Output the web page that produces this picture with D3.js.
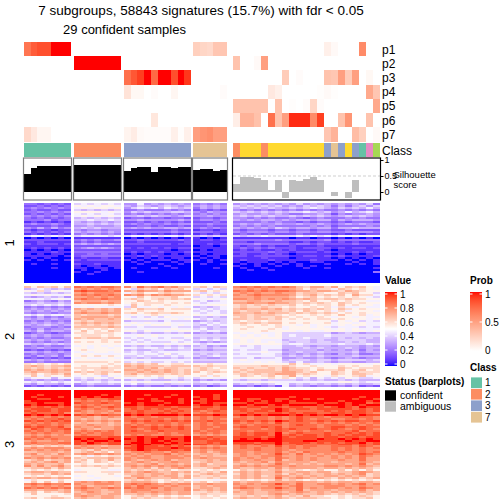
<!DOCTYPE html>
<html><head><meta charset="utf-8">
<script src="https://cdn.jsdelivr.net/npm/d3@7"></script>
<style>html,body{margin:0;padding:0;background:#fff}svg{display:block}text{font-family:"Liberation Sans",Arial,sans-serif;fill:#000}rect.cell{shape-rendering:crispEdges}</style>
</head><body><svg id="c" width="504" height="504"></svg>
<script>
const titleLines = ["7 subgroups, 58843 signatures (15.7%) with fdr < 0.05", "29 confident samples"];
const groupSizes = [7, 7, 10, 5, 21];
const classes = [1,1,1,1,1,1,1, 2,2,2,2,2,2,2, 3,3,3,3,3,3,3,3,3,3, 7,7,7,7,7,
  2,6,6,6,2,6,6,6,6,6,6,6,6,3,7,3,6,3,1,4,5];
const classColor = {1:"#66C2A5",2:"#FC8D62",3:"#8DA0CB",4:"#E78AC3",5:"#A6D854",6:"#FFD92F",7:"#E5C494"};
const p1 = [.7,.8,.85,.85,1,1,1, 0,0,0,0,0,0,0, 0,0,0,0,0,0,0,0,0,0, .25,.22,.2,.3,.3,
  0,0,0,0,0,0,0,0,0,0,0,0,0,.08,.03,0,0,0,.6,0,0];
const p2 = [0,0,0,0,0,0,0, 1,1,1,1,1,1,1, 0,0,0,0,0,0,0,0,0,0, 0,0,0,0,0,
  .32,0,0,.03,.5,0,0,0,0,0,0,0,0,0,0,0,0,0,0,0,0];
const p3 = [0,0,0,0,0,0,0, 0,0,0,0,0,0,0, .72,.82,.9,1,.75,1,1,.85,1,.92, 0,0,0,0,0,
  0,0,0,0,0,0,0,.27,0,.02,0,0,0,.32,.3,.5,.27,.5,0,.04,0];
const p4 = [0,0,0,0,0,0,0, 0,0,0,0,0,0,0, .15,.04,.04,0,.02,0,0,.05,0,0, 0,0,0,0,.02,
  0,0,0,0,0,.12,.08,0,0,0,0,0,.01,.03,.01,0,0,0,0,.45,.3];
const p5 = [0,0,0,0,0,0,0, 0,0,0,0,0,0,0, 0,0,0,0,0,0,0,0,0,0, 0,0,0,0,0,
  .32,.32,.32,.32,.32,0,.32,0,.01,0,.02,.22,.02,0,0,0,0,0,0,0,.45];
const p6 = [0,0,0,0,0,0,0, 0,0,0,0,0,0,0, 0,0,0,0,.13,0,0,0,0,0, 0,0,0,0,0,
  .09,.4,.4,.33,0,.72,.32,.5,.95,.95,.95,.6,.9,0,0,.32,.55,0,0,.32,0];
const p7 = [.2,.12,.05,.05,0,0,0, 0,0,0,0,0,0,0, .06,.1,.03,.02,.02,.02,.02,.08,.01,.08, .5,.55,.58,.5,.5,
  0,0,0,0,0,0,0,0,0,0,0,0,0,.3,.4,0,0,.35,.25,0,.03];
const probNames = ["p1","p2","p3","p4","p5","p6","p7"];
const probRows = [p1,p2,p3,p4,p5,p6,p7];
const silhouette = [.56,.74,.81,.81,.81,.81,.81, .84,.84,.84,.84,.84,.84,.84,
  .66,.75,.78,.78,.63,.78,.78,.75,.78,.78, .69,.72,.72,.66,.69,
  .25,.47,.47,.44,.38,.06,.38,-.18,.38,.34,.41,.47,.38,0,-.12,0,-.18,.38,0,0,0];
const confidentCount = 29;

// expression rows; one hex digit per sample, 0 = 0 and f = 1
const slice1 = [
"3323232 6767676 44745 45454 34343 4545454 5464545 4545463",
"2232323 8787887 54654 56545 45454 6565656 4546565 3535646",
"3434343 7878878 46767 57656 35454 5656565 5656765 4656575",
"2322322 6565656 33433 34343 23232 4343434 3434343 3434343",
"3343434 8888787 46565 55665 43544 6565656 5667656 4575675",
"2323232 7676776 34343 43434 34343 4544545 4334454 2434454",
"4343434 7878787 55656 55456 44544 5656565 5656565 4565654",
"3232323 5656565 23323 32332 23323 4434343 3432343 3343433",
"3334233 6676676 44544 44454 34434 5454554 5455455 3545554",
"1212121 5454545 22323 23232 22232 3333434 3323233 2323332",
"3433432 5565656 34343 34344 33433 4545445 4454454 3454544",
"2222322 4454445 22332 32232 22322 3434343 3333434 2333343",
"4353534 5656555 45454 45545 34343 5454546 5455455 3556555",
"2122122 4344344 22222 22322 12212 3233323 3233233 2232222",
"3232323 5455454 33333 33433 33322 4344434 4344344 3344443",
"1212121 3434343 12121 21212 12121 2323232 2232222 1212122",
"6776767 6777767 67777 67767 56565 6566766 6676767 6777777",
"0101010 1111111 01010 10101 10101 1111111 1011011 0101010",
"2222222 3434334 22322 22232 12212 3333334 3333334 2333333",
"1121111 2323222 11211 11112 11111 2212222 2112122 1212112",
"2122212 4545454 22222 22122 11212 3334333 3233232 2223222",
"1111111 2222222 11111 11111 01101 2122121 1211121 1111111",
"1212121 3454543 21212 12122 11111 2323232 2212222 1212212",
"0101010 2222222 11111 11011 01011 1212112 1211121 0111111",
"1111211 3333333 12121 21112 11111 2222232 2122212 1112121",
"1010110 2232322 01011 10101 01011 1211212 1011111 0101011",
"1111101 2333333 11212 11111 10110 2212222 2112212 1211112",
"0101000 1211211 01010 10110 01010 1111211 1011111 0101010",
"1010101 2122222 10101 11011 10101 1211121 1111211 1010101",
"0000000 1111111 01010 00101 00100 1011101 0100110 0001001",
"0100100 2112111 00100 10010 01001 0101010 1010001 0010101",
"0000000 1011011 00000 01000 00000 1001001 0010100 0000000",
"0000100 1101101 01001 00100 00010 0100100 0001001 0000001",
"0000000 0100100 00000 00000 00000 0010010 0000000 0000000",
"0000000 1001000 00100 00000 00000 0000000 0000000 0000003",
"0000000 0010000 00000 00000 00000 0000000 0000000 0000000",
"0000000 0000000 00000 00000 00000 0000000 0000000 0000000",
"0000000 0000000 00000 00000 00000 0000000 0000000 0000000",
"0000000 0000000 00000 00000 00000 0000000 0000000 0000000",
"0000000 0000000 00000 00000 00000 0000000 0000000 0000000"];
const slice2 = [
"a8a9a8a dcdcddc c9dbc dbcaa 9a8a9 cdcdcdc dca9bb9 b8a9a87",
"5676565 bcbcbcb 86a9a 8a9a8 67676 bbcbcbb bba8a99 7a98987",
"8796887 dedddcd bacbb acbbb 9a898 dcdcdcd dcbbabb a9ba988",
"6565656 bcbcccb 79a88 9a998 76767 bcbcbbc bb9aa98 8a9a886",
"7878778 cdcdcdc cbcac bcbba 98989 cbcdccc cb9ab9a 9a8b997",
"5456564 bbcbcbc 87a89 99a88 67676 bbbcbbb ba89a89 8989876",
"7776787 cdccdcc 9a989 a9a9a 87878 ccbcbcb cbaba9a a9a9988",
"3454354 abbbabb 88a98 98888 67567 aabbaab aa98a88 9898877",
"5565565 cbccbcb 89899 98989 76777 bbcbbcb ba9a9a9 8a98988",
"6767676 8888898 7a898 89888 87888 9a9a9a9 9a89899 8a89887",
"3434343 7878777 6a778 78787 56567 9a99a99 8988989 7977877",
"4545454 bababab 98a99 a8999 76767 abaabab 9a9a9a9 8a98988",
"5454545 abaabab 88988 98888 67676 a9aa9aa 9a8a989 7978887",
"4344344 bcbbcbb 9a89a 99a98 76776 baababa a9a9a9a 9898988",
"7676776 a9aaa9a 78789 87888 87878 aa9aaa9 8988989 8a88978",
"4353435 abbbbab 76767 68777 56565 9a9a99a 9898898 7887877",
"5454544 babaaba 87787 77878 76766 aa9aa9a 8989899 8988878",
"3434343 9a9aaaa 56666 57666 45656 9899899 8888888 6878676",
"4545454 abababa 78787 78777 67676 9a9a9aa 8989889 7887877",
"5456545 9a9a9a9 87878 88787 65767 8988989 8878788 7878877",
"3444343 aaaaaba 66766 66766 56565 8898889 7888787 6777676",
"4353445 9898989 77777 77877 67566 8988898 7888888 7878777",
"5464554 8a898a9 88687 78788 76776 8888988 8878778 8878878",
"2343233 9989998 56565 56565 45454 7878778 6666666 4565455",
"4545445 8999898 77878 77778 66666 8787878 6766667 6666666",
"3434334 a9aa9aa 67677 67667 56565 8888888 6667666 5656565",
"5454554 8888988 76767 77876 67676 7878777 5666565 5666655",
"4343434 9898989 67676 66767 54545 7878787 6566566 5565655",
"6556565 8888888 77877 78788 76777 8888888 6776666 6766676",
"3434334 7878787 56565 56565 56454 7676777 5565455 4555454",
"4454445 8878878 77677 67676 66566 7776777 5556565 5565455",
"2323232 8988888 56556 65566 45455 6766766 4555545 4545354",
"5545454 7878878 67676 77777 66666 7777877 5565565 5556455",
"3434434 8787777 77677 68677 56565 6766776 4545454 3545334",
"4354535 8989898 66766 76767 65676 7777776 5656565 5556555",
"2323232 7877787 56565 55656 45445 6675667 4454454 3454344",
"5454544 8888888 77877 77777 66666 7877777 5666566 5666656",
"3343333 9999989 67676 67676 55555 7778787 6575565 4554455",
"9898989 8888898 a9a9a 88998 88988 8888888 8a89778 7888878",
"aba9aab 8988989 babaa a9aaa a9a99 9999a99 a988988 8989889",
"a9a9a9a 9999a99 aabab 9aa99 9a989 a9a99a9 ba99898 8a98999",
"bababab 8989998 bbaba aba9a 9a998 9a9aaa9 baa98a9 9a89a89",
"abaabaa a9a9a9a aabab aba9a a89a9 a9aaaaa bba9a88 a98a999",
"9a89a9b 8989a88 ab9aa a9a9a 88988 9a9a9ab bb9a988 a98aa98",
"8a7988a 7887687 99898 98898 89798 8a989a8 9b89887 9889a78",
"6787577 6768768 77877 68767 67877 8788898 9867576 7687667",
"4545454 5656565 56565 55656 45454 6566566 6656565 5656555",
"7676767 7677677 78787 78787 67777 7788787 7777777 7887677",
"5465546 4565565 67566 65666 55656 5656567 7565656 5656556",
"2323232 3343333 34343 34343 34234 3342342 7454344 3435232"];
const slice3 = [
"fffffff fffffff fffff fffff fffff fffffff fffffff fffffff",
"fffffff fffffff fffff fffff fffff fffffff fffffff fffffff",
"ffeffff ffffeff fffef ffeff fffef fffffff fffffff fffffff",
"fefffef fefeffe fffff fefff effef fffffff fefffff ffffeff",
"ffeefff dedddee ffefe fffef fefef efeeffe effefef fffeffe",
"effffff cdcdcdc ffffe effef eefff ffefefe fefffff fefffef",
"eefeeef edddedd efeff fefef fefee eefeeff feeeefe efeffde",
"fefffef cdcdccd ffeff effff effef ffeffef effffef ffefeff",
"ededede dedcded eedee eedee deede edeedee deedded efedfee",
"deeedee cdcdcdc deded ededd eedde eeddeef edeedee eeedede",
"edeedee dcbccbd ddedd deded dcded dedeedf eddddde dedeede",
"dedddec bcbcbcb ededd ededd cdcdd ddeddee dedeedd eedeedc",
"fefefef edededd fefef fffef eeefe efefeff fefefef fefefee",
"dcdcdcd bcbabcb dcddc dddcd cdcdd cdcddcd cdedddc dddeddc",
"cdcdded bababaa ddcdd dcdcd cdcdc ddcddcd cdedcdd ccddcdc",
"ededede cbcbcbc deded edede ddedd edededf ededded edeedde",
"cdcdcdd abaabab cdcdd ddcdd cdcdc dcdcdce cdddcdc dcdcdcd",
"dcddcdc bbcbbab dcdcd cdcdc cdcdd cdcdddd cdeddcd ddcdcdc",
"ededdec cbbcbbc dedde deded cddcd deddede cddddcd eeddedd",
"cedcdde bcbabbc ddcde ddded cdcdd cdddcde deddedd edcdedc",
"dcdcdcd cdcdcdc dedcd edddd dcddc ddcddde dcdcddc dddecdd",
"cdcdccd dcdcddc ddddd cdcdd cdcdc dedeedf cdeddde ddedede",
"bcbcbcb cdccddc cdcdc cdccd bcbcb dedeedf dedeede dedeede",
"cdcdccc eeeedee eefee feeef ededd eeeedef edeeede edeedee",
"dcdcdcc fefeefe fefef fefef eeded efefeff eeeeefe efefefe",
"bcbbcbc efeffef eefef efeef ddeee fffffff eeeffee eefeeff",
"cdcccdd edfedee effef fefee ddede eeedeef deeeded edeefde",
"cbcbcbc ededdee feffe efeef eedde dededdf ddedddd deedede",
"9a9a9a9 bcbbabb defee deded bcbcb cdccdce cdcddcc dddcedc",
"bcbcccb cbcbcbb eefee eefee cdcdc cdcdccd cdcdccc dcdcdcd",
"cbcbcbc 9a9b9aa defed eedde bcbcc cccdccd cbccccc dcdcdcc",
"aabbbab 9ab9a8a bccdc cbdcc bcabc ccbcccd bcbdccc cdccdcd",
"bcabacb bcbcbcb cbcbc cdbcb abbab bcbcbce cbdbcbc bcbcedc",
"abbabba 8979899 bcbcb bccbc babaa bcbbccd bbcbbcb cbcbdcb",
"cbcbcbc a9aaaba cbccb bcccb bcbbb cbcbcbd cbcbcbb cbcbdbb",
"9ab9aab 9a8a9b9 cbabc bcabb aabab cbbcbbd abcbcbb bcbbdbb",
"ababcab a98a989 abcba bbcbb 9abaa babbcac bbbbabb abbbcba",
"babaab9 8988898 bbabc abbab ab9aa abababd bababab bbabdab",
"cacabca 9a9a9a9 bcbcb cbcbc abaab bcbcbcc bcbbbbc cbcbcba",
"9aab9ba 8888988 abab9 babcb 99aba baabbac abbbbab bababa9",
"8989898 7888877 a9a9a 9a899 89898 8a9a9ab 9a989a8 8a8a8a8",
"abbabaa 9988999 babcb aabab a9a9b ababaac aabbabb 9aabcba",
"9aa9bab 8888898 aabab bab9a 9abaa 9babaab 9babaab ababc9a",
"8989898 7878887 9bbab abb9b a99a9 abab9ac bababab babab9a",
"babbabb 8887888 bacba aabab 99a9a ababaad abcbaba 9bab9ab",
"7988798 7878888 9a9a9 89898 78878 898989b 9a98989 8989898",
"8a8a8a8 bcbcbcb abbba 89a9a 9a89a babbabb bbcbbab abbabba",
"cdcdccd cbbcccb cdcdc bcbcc bbcbb cbcbcce cbdbbcc bcbcdbc",
"bcbcbcb bcabbab cbdcc cbcbb ababb bcbbbcc bcdbbbc ccbbcbb",
"dcdcdcd cdcbcdc dcdcd bcbbc abbab cdcbcce cbdbcbc cbcbdcb",
"bbabbab bcbbabb bcccb bcbbc babab abbabbc bbdabbb abbbcab",
"9a8a9ab abcbaab bcbbc bbabb 99a9a babaabb abcbaba bababa9",
"8a88889 babbabb aabab ababb 9a999 aabaabc babaaba 9a9a9a9",
"8888988 bcbabba 89a9a 89898 89898 9a9a9ab 9a9b998 8989a98",
"9a89aa9 abaabba 8a9a9 9a9aa 89989 abaabab a9aaa99 89899a8"];
const sliceNames = ["1","2","3"];
const sliceRows = [slice1, slice2, slice3];
const valueTicks = [0,.2,.4,.6,.8,1];
const probTicks = [0,.5,1];
const silhouetteTicks = [0,.5,1];
const classLegend = [1,2,3,7];
const statusLegend = [["confident","#000000"],["ambiguous","#BEBEBE"]];

// ---------- layout ----------
const groupExtents = [[24,71],[74,121],[124,191],[193,227],[233,380]];
const probBand = d3.scaleBand().domain(probNames).range([42,141.5]);
const classBand = [143,157];
const silBox = [158,200];
const sliceExtents = [[203,283],[286,387],[390,499]];

const svg = d3.select("#c");
const probColor = d3.scaleLinear().domain([0,1]).range(["#ffffff","#ff0000"]).interpolate(d3.interpolateLab);
const valueColor = d3.scaleLinear().domain([0,.5,1]).range(["#0000ff","#ffffff","#ff0000"]).interpolate(d3.interpolateLab);
const silY = d3.scaleLinear().domain([0,1]).range([192,160]);

let start = 0;
const groups = groupSizes.map((n,g)=>{
  const idx = d3.range(start,start+n); start += n;
  return {g, idx, band:d3.scaleBand().domain(idx).range(groupExtents[g])};
});
const samples = groups.flatMap(G=>G.idx.map(i=>({i,x:G.band(i),w:G.band.bandwidth(),G})));

// title
svg.selectAll("text.title").data(titleLines).join("text").attr("class","title")
  .attr("x",(d,i)=>[201,124.5][i]).attr("y",(d,i)=>[15,34][i]).attr("text-anchor","middle")
  .attr("font-size",(d,i)=>[13.5,13][i]).text(d=>d);

// probability annotation tracks
probRows.forEach((vals,r)=>{
  svg.append("g").selectAll("rect").data(samples).join("rect").attr("class","cell")
    .attr("x",d=>d.x).attr("width",d=>d.w)
    .attr("y",probBand(probNames[r])).attr("height",probBand.bandwidth())
    .attr("fill",d=>probColor(vals[d.i]));
});
svg.selectAll("text.pn").data(probNames).join("text").attr("class","pn")
  .attr("x",382).attr("y",d=>probBand(d)+probBand.bandwidth()/2+4.5).attr("font-size",12).text(d=>d);

// class track
svg.append("g").selectAll("rect").data(samples).join("rect").attr("class","cell")
  .attr("x",d=>d.x).attr("width",d=>d.w).attr("y",classBand[0]).attr("height",classBand[1]-classBand[0])
  .attr("fill",d=>classColor[classes[d.i]]);
svg.append("text").attr("x",382).attr("y",154.5).attr("font-size",12).text("Class");

// silhouette barplots
const silG = svg.append("g");
silG.append("line").attr("x1",233).attr("x2",380).attr("y1",silY(.5)).attr("y2",silY(.5))
  .attr("stroke","#cfcfcf").attr("stroke-dasharray","3 2");
silG.selectAll("rect.bar").data(samples).join("rect").attr("class","bar cell")
  .attr("x",d=>d.x).attr("width",d=>d.w)
  .attr("y",d=>silY(Math.max(0,silhouette[d.i])))
  .attr("height",d=>Math.abs(silY(0)-silY(silhouette[d.i])))
  .attr("fill",d=>d.i<confidentCount?statusLegend[0][1]:statusLegend[1][1]);
silG.selectAll("rect.box").data(groupExtents).join("rect").attr("class","box")
  .attr("x",d=>d[0]-.5).attr("width",d=>d[1]-d[0]+1).attr("y",silBox[0]).attr("height",silBox[1]-silBox[0])
  .attr("fill","none").attr("stroke",(d,i)=>i<4?"#7f7f7f":"#000").attr("stroke-width",1.2);
const silAxis = svg.append("g").attr("transform","translate(380.5,0)")
  .call(d3.axisRight(silY).tickValues(silhouetteTicks).tickFormat(d3.format("~g")).tickSize(3).tickPadding(1));
silAxis.select(".domain").remove();
silAxis.selectAll("text").attr("font-size",9).style("font-family",'"Liberation Sans"');
svg.append("text").attr("x",393.5).attr("y",178).attr("font-size",9.5).text("Silhouette");
svg.append("text").attr("x",393.5).attr("y",188).attr("font-size",9.5).text("score");

// heatmap slices
sliceRows.forEach((rows,s)=>{
  const rowBand = d3.scaleBand().domain(d3.range(rows.length)).range(sliceExtents[s]);
  const cells = rows.flatMap((str,r)=>{
    const digits = str.replace(/\s/g,"");
    return samples.map(d=>({d,r,v:parseInt(digits[d.i],16)/15}));
  });
  svg.append("g").selectAll("rect").data(cells).join("rect").attr("class","cell")
    .attr("x",c=>c.d.x).attr("width",c=>c.d.w)
    .attr("y",c=>rowBand(c.r)).attr("height",rowBand.bandwidth())
    .attr("fill",c=>valueColor(c.v));
  const cy=(sliceExtents[s][0]+sliceExtents[s][1])/2;
  svg.append("text").attr("transform",`translate(14,${cy}) rotate(-90)`).attr("text-anchor","middle")
    .attr("font-size",13).text(sliceNames[s]);
});

// legends
const defs = svg.append("defs");
function gradient(id,scale,n){
  const g = defs.append("linearGradient").attr("id",id).attr("x1",0).attr("x2",0).attr("y1",1).attr("y2",0);
  d3.range(n+1).forEach(k=>g.append("stop").attr("offset",k/n).attr("stop-color",scale(k/n)));
}
gradient("gv",valueColor,40); gradient("gp",probColor,40);
function colorbar(title,x,y0,y1,bar0,bar1,id,ticks){
  svg.append("text").attr("x",x).attr("y",y0-8).attr("font-size",10).attr("font-weight","bold").text(title);
  const sc = d3.scaleLinear().domain([0,1]).range([y1,y0+2]);
  svg.append("rect").attr("x",x).attr("y",bar0).attr("width",12).attr("height",bar1-bar0).attr("fill",`url(#${id})`);
  const ax = svg.append("g").attr("transform",`translate(${x+12},0)`)
    .call(d3.axisRight(sc).tickValues(ticks).tickFormat(d3.format("~g")).tickSize(0).tickPadding(3));
  ax.select(".domain").remove();
  ax.selectAll("text").attr("font-size",10).style("font-family",'"Liberation Sans"');
  ticks.forEach(t=>{
    [[x,x+2.5],[x+9.5,x+12]].forEach(([a,b])=>svg.append("line").attr("x1",a).attr("x2",b)
      .attr("y1",sc(t)).attr("y2",sc(t)).attr("stroke","#fff").attr("stroke-width",1));
  });
}
colorbar("Value",385,292,364,292,366,"gv",valueTicks);
colorbar("Prob",470,292,350,292,351,"gp",probTicks);

svg.append("text").attr("x",470).attr("y",371).attr("font-size",10).attr("font-weight","bold").text("Class");
const cl = d3.scaleBand().domain(classLegend).range([377,423]);
svg.selectAll("rect.cl").data(classLegend).join("rect").attr("class","cl")
  .attr("x",471).attr("width",11).attr("y",d=>cl(d)+.4).attr("height",cl.bandwidth()-.8)
  .attr("fill",d=>classColor[d]);
svg.selectAll("text.cl").data(classLegend).join("text").attr("class","cl")
  .attr("x",485).attr("y",d=>cl(d)+cl.bandwidth()/2+3.5).attr("font-size",10).text(d=>d);

svg.append("text").attr("x",385).attr("y",385).attr("font-size",10).attr("font-weight","bold").text("Status (barplots)");
const st = d3.scaleBand().domain(statusLegend.map(d=>d[0])).range([390,412]);
svg.selectAll("rect.st").data(statusLegend).join("rect").attr("class","st")
  .attr("x",385).attr("width",11).attr("y",d=>st(d[0])+.3).attr("height",st.bandwidth()-.6).attr("fill",d=>d[1]);
svg.selectAll("text.st").data(statusLegend).join("text").attr("class","st")
  .attr("x",400).attr("y",d=>st(d[0])+st.bandwidth()/2+3.5).attr("font-size",10.5).text(d=>d[0]);
</script></body></html>
